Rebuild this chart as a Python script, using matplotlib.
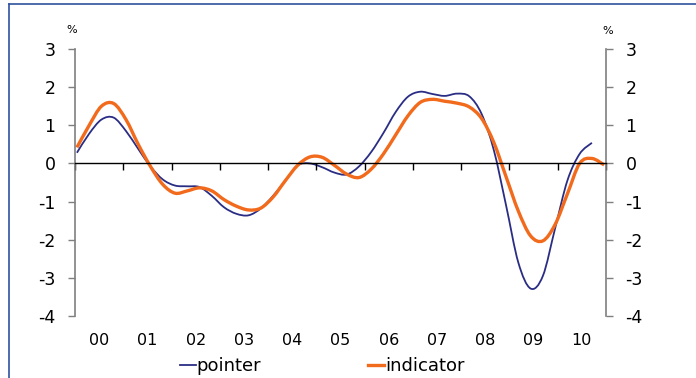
import matplotlib.pyplot as plt
import numpy as np
from matplotlib.path import Path
from matplotlib.patches import PathPatch
from matplotlib.lines import Line2D

plt.rcParams['axes.unicode_minus'] = False
plt.rcParams['font.family'] = 'DejaVu Sans'

years = ['00', '01', '02', '03', '04', '05', '06', '07', '08', '09', '10']
yticks = [3, 2, 1, 0, -1, -2, -3, -4]

# quarterly readings, 2000 Q1 onwards
pointer = [0.28, 0.78, 1.15, 1.20, 0.85, 0.38, -0.08, -0.42, -0.58, -0.60,
           -0.62, -0.85, -1.15, -1.32, -1.36, -1.18, -0.85, -0.45, -0.05, 0.00,
           -0.10, -0.24, -0.29, -0.08, 0.30, 0.80, 1.35, 1.75, 1.88, 1.82,
           1.77, 1.83, 1.76, 1.30, 0.35, -1.10, -2.60, -3.28, -2.95, -1.70,
           -0.45, 0.25, 0.54]
indicator = [0.42, 1.00, 1.50, 1.57, 1.15, 0.50, -0.08, -0.55, -0.78, -0.72,
             -0.64, -0.72, -0.95, -1.12, -1.22, -1.17, -0.88, -0.45, -0.05, 0.17,
             0.16, -0.05, -0.28, -0.37, -0.15, 0.25, 0.75, 1.25, 1.60, 1.68,
             1.63, 1.58, 1.48, 1.18, 0.55, -0.35, -1.25, -1.90, -2.03, -1.60,
             -0.80, 0.00, 0.13, -0.04]


def smooth_path(x, y):
    # catmull-rom segments written as cubic bezier pieces
    p = np.column_stack([x, y])
    verts = [p[0]]
    codes = [Path.MOVETO]
    n = len(p)
    for i in range(n - 1):
        p0 = p[max(i - 1, 0)]
        p1 = p[i]
        p2 = p[i + 1]
        p3 = p[min(i + 2, n - 1)]
        verts += [p1 + (p2 - p0) / 6, p2 - (p3 - p1) / 6, p2]
        codes += [Path.CURVE4] * 3
    return Path(verts, codes)


fig = plt.figure(figsize=(6.96, 3.78), dpi=100)
ax = fig.add_axes([75/696, 1-316/378, (606-75)/696, (316-49)/378])

step = 0.254
for vals, col, lw in [(pointer, '#2a2d84', 1.3), (indicator, '#f26a1c', 2.4)]:
    t = 0.04 + step*np.arange(len(vals))
    ax.add_patch(PathPatch(smooth_path(t, vals), facecolor='none',
                           edgecolor=col, lw=lw, capstyle='butt'))

ax.set_xlim(0, 11)
ax.set_ylim(-4, 3)
ax.set_yticks(yticks)

ax.spines['top'].set_visible(False)
ax.spines['bottom'].set_position(('data', 0))
ax.spines['bottom'].set_color('black')
ax.spines['bottom'].set_linewidth(1.0)
for s in ['left', 'right']:
    ax.spines[s].set_color('#7f7f7f')
    ax.spines[s].set_linewidth(1.2)

ax.set_xticks(range(12))
ax.tick_params(axis='x', direction='out', length=5, width=1.0, color='black',
               labelbottom=False)
ax.tick_params(axis='y', direction='out', length=5, width=1.0, color='#7f7f7f',
               labelsize=12.5, pad=9, right=True, labelright=True)

for i, lab in enumerate(years):
    ax.text(i + 0.5, -0.09, lab, transform=ax.get_xaxis_transform(),
            ha='center', va='center', fontsize=11.5)

fig.text(72/696, 1-30/378, '%', ha='center', va='center', fontsize=8)
fig.text(608/696, 1-31/378, '%', ha='center', va='center', fontsize=8)

handles = [Line2D([], [], color='#2a2d84', lw=1.3),
           Line2D([], [], color='#f26a1c', lw=2.4)]
fig.legend(handles, ['pointer', 'indicator'], loc='center',
           bbox_to_anchor=(322/696, 1-366/378), ncol=2, frameon=False,
           fontsize=13, handlelength=0.9, handletextpad=0.05,
           columnspacing=5.9, borderpad=0)

# frame lines along the top and left edge
fig.add_artist(Line2D([9/696, 1], [1-4/378, 1-4/378], color='#2f52a0', lw=1.2,
                      transform=fig.transFigure))
fig.add_artist(Line2D([9/696, 9/696], [0, 1-4/378], color='#2f52a0', lw=1.2,
                      transform=fig.transFigure))

fig.savefig('out.png', dpi=100)
